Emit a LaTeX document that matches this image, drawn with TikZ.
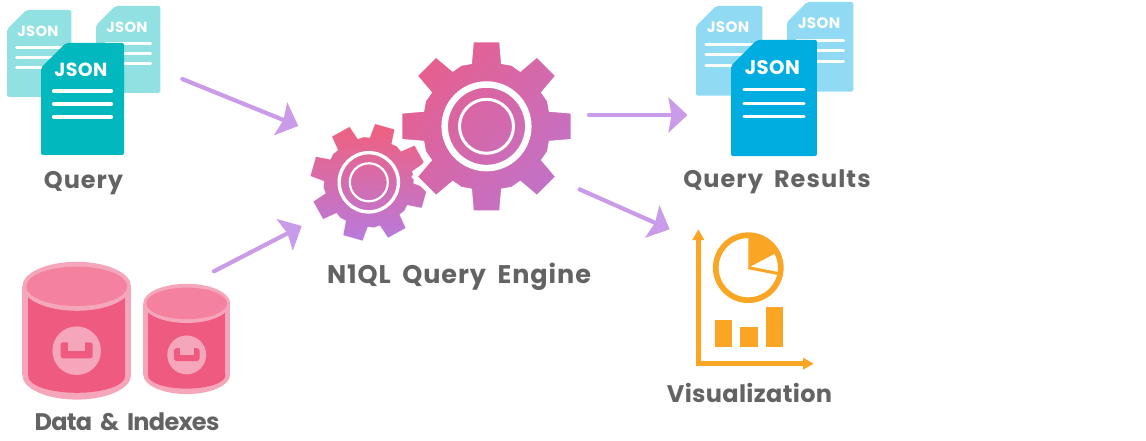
\documentclass[tikz,border=0pt]{standalone}
\usepackage{fontspec}
\setmainfont{Poppins}[WordSpace=1.8]
\usetikzlibrary{arrows.meta}
\definecolor{querydark}{HTML}{00B8BE}
\definecolor{querylight}{HTML}{91E1E2}
\definecolor{resultdark}{HTML}{00ADE0}
\definecolor{resultlight}{HTML}{90DBF3}
\definecolor{flowcol}{HTML}{C99BE8}
\definecolor{labelcol}{HTML}{636363}
\definecolor{chartcol}{HTML}{FBA524}
\definecolor{bucketband}{HTML}{F6A6BA}
\definecolor{bucketlid}{HTML}{F4829F}
\definecolor{bucketbody}{HTML}{EE5A80}
\definecolor{gearpink}{HTML}{E65F8E}
\definecolor{gearmauve}{HTML}{C272C8}
\definecolor{gearrose}{HTML}{F0607E}
\definecolor{gearviolet}{HTML}{B87ADD}
\tikzset{
  x=1pt, y=-1pt,
  flow/.style={draw=flowcol, line width=4.2pt, line cap=round, -{Stealth[length=19pt,width=35pt,inset=3pt]}},
  caption/.style={text=labelcol, anchor=base, inner sep=0pt,
    font=\fontsize{24}{24}\selectfont\bfseries\addfontfeature{LetterSpace=#1}},
  doctext/.style={text=white, transform shape, inner sep=0pt,
    font=\fontsize{19}{20}\selectfont\bfseries\addfontfeature{LetterSpace=2}},
  pics/jsondoc/.style={code={
    \fill[#1, rounded corners=2pt] (0,112) -- (0,25) -- (25,0) -- (83,0) -- (83,112) -- cycle;
    \node[doctext] (-title) at (40,27) {JSON};
    \foreach \y in {48,61,74}
      \draw[white, line width=3.3pt, line cap=round] (12.5,\y) -- (70.5,\y);
  }},
  pics/gear/.style n args={4}{code={
    \shade[left color=#1, right color=#2, shading angle=#3, draw=white, line width=#4]
      ([rotate=-22.5]66.5,0)
      \foreach \a in {0,45,...,315} {
        -- ([rotate=\a]63,16.5) -- ([rotate=\a]84.5,14.7) -- ([rotate=\a]84.5,-14.7)
        -- ([rotate=\a]63,-16.5) -- ([rotate=\a+22.5]66.5,0)
      } -- cycle;
  }},
  pics/bucket/.style={code={
    % outer band
    \fill[bucketband] (-54.3,0) rectangle (54.3,89);
    \fill[bucketband] (0,89) ellipse [x radius=54.3, y radius=24.3];
    % body
    \fill[bucketbody] (-48.4,0) rectangle (48.4,90);
    \fill[bucketbody] (0,90) ellipse [x radius=48.4, y radius=16.5];
    % lid
    \fill[bucketband] (0,0) ellipse [x radius=54.3, y radius=24.5];
    \fill[bucketlid] (0,0) ellipse [x radius=50.5, y radius=19.7];
    % logo
    \fill[bucketband] (0,64.4) circle (24.3);
    \fill[bucketbody, rounded corners=2.5pt] (-16,56) rectangle (16,72);
    \fill[bucketband] (-8.5,54) rectangle (8.5,65);
  }}
}
\begin{document}
\begin{tikzpicture}
    \useasboundingbox (0,0) rectangle (1146,441);
    % query documents
    \pic[scale=0.775] (querya) at (7,10) {jsondoc=querylight};
    \pic[scale=0.775] (queryb) at (96,6) {jsondoc=querylight};
    \pic (queryc) at (41,43) {jsondoc=querydark};
    \node[caption=4] (querylabel) at (83.5,188) {Query};
    % buckets
    \pic (bucketa) at (76.7,286.3) {bucket};
    \pic[scale=0.8] (bucketb) at (186.7,303.4) {bucket};
    \node[caption=-3] (datalabel) at (127,430) {Data \& Indexes};
    % gears
    \coordinate (gearsmall) at (368.8,182.3);
    \coordinate (gearbig) at (486.5,126.3);
    \pic[scale=0.685, rotate=-16] at (gearsmall) {gear={gearrose}{gearviolet}{0}{0.01pt}};
    \draw[white, line width=3.4pt] (gearsmall) circle (29.6);
    \draw[white, line width=2.2pt] (gearsmall) circle (19);
    \pic[scale=1.024] at (gearbig) {gear={gearpink}{gearmauve}{45}{5pt}};
    \draw[white, line width=6.5pt] (gearbig) circle (41.8);
    \draw[white, line width=3pt] (gearbig) circle (27);
    \node[caption=3.7] (enginelabel) at (459,283) {\fontsize{25.5}{25}\selectfont N1QL Query Engine};
    % results
    \pic[scale=0.8] (resulta) at (696,6) {jsondoc=resultlight};
    \pic[scale=0.8] (resultb) at (787,2) {jsondoc=resultlight};
    \pic[scale=1.036] (resultc) at (731,40) {jsondoc=resultdark};
    \node[caption=4.5] (resultlabel) at (777,187) {Query Results};
    % chart
    \coordinate (pie) at (748.3,267.7);
    \draw[chartcol, line width=4.5pt, {Triangle[length=10.7pt,width=11.3pt]}-{Triangle[length=10.7pt,width=11.3pt]}] (698.3,229.3) -- (698.3,363.7) -- (813.7,363.7);
    \draw[chartcol, line width=5.7pt] (pie) circle (32.5);
    \fill[chartcol] (pie) -- ++(-90:32.5) arc[start angle=-90, end angle=-28, radius=32.5] -- cycle;
    \draw[chartcol, line width=3pt] (pie) -- ++(11:32.5);
    \fill[chartcol] (715,320) rectangle (732.3,347);
    \fill[chartcol] (740.3,327) rectangle (757.7,347);
    \fill[chartcol] (765.7,307) rectangle (782.7,347);
    \node[caption=1.4] (chartlabel) at (749.5,402.7) {Visualization};
    % flows
    \coordinate (querytail) at (182.3,79);
    \coordinate (queryhead) at (298.3,126);
    \coordinate (datatail) at (214,271.3);
    \coordinate (datahead) at (301.7,226);
    \coordinate (resulttail) at (589,115);
    \coordinate (resulthead) at (687.5,115);
    \coordinate (charttail) at (579.5,189.3);
    \coordinate (charthead) at (669.7,229.3);
    \draw[flow] (querytail) -- (queryhead);
    \draw[flow] (datatail) -- (datahead);
    \draw[flow] (resulttail) -- (resulthead);
    \draw[flow] (charttail) -- (charthead);
\end{tikzpicture}
\end{document}
